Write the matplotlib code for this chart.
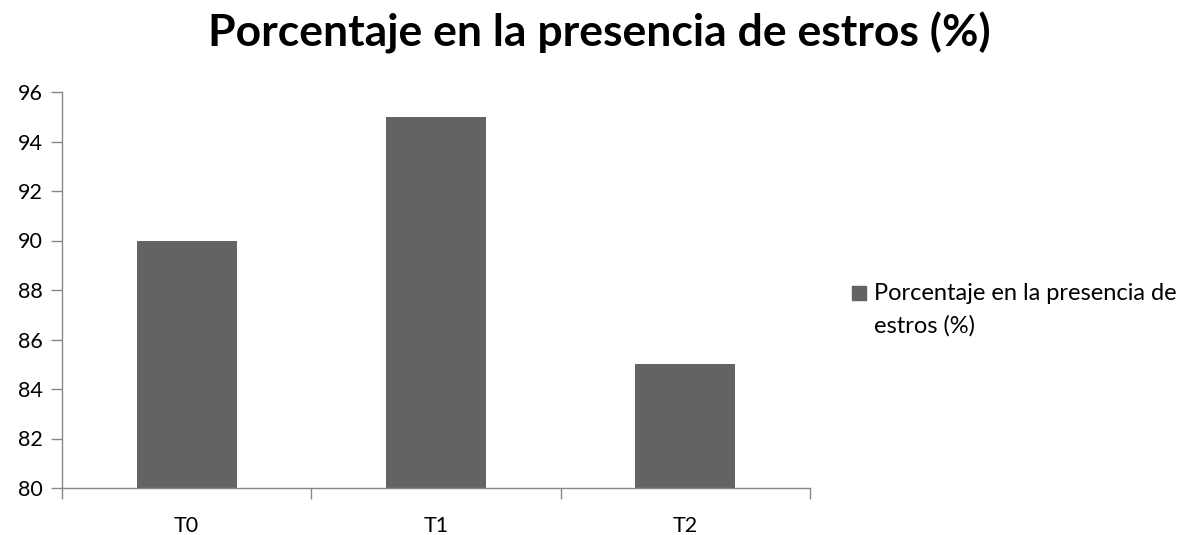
import matplotlib.pyplot as plt
from matplotlib.patches import Rectangle

# datos
categorias = ["T0", "T1", "T2"]
valores = [90, 95, 85]
serie = "Porcentaje en la presencia de estros (%)"
leyenda_lineas = ["Porcentaje en la presencia de", "estros (%)"]
yticks = [80, 82, 84, 86, 88, 90, 92, 94, 96]

GRIS_BARRA = "#636363"
GRIS_EJE = "#878787"
W, H = 1199, 535

plt.rcParams["font.family"] = ["Lato", "DejaVu Sans"]

fig = plt.figure(figsize=(W / 100, H / 100), dpi=100)
ax = fig.add_axes([62 / W, 1 - 488 / H, (810 - 62) / W, (488 - 92) / H])

x = range(len(categorias))
ax.bar(x, valores, width=0.4, color=GRIS_BARRA, zorder=2)

ax.set_xlim(-0.5, len(categorias) - 0.5)
ax.set_ylim(80, 96)
ax.set_yticks(yticks)
ax.tick_params(axis="y", direction="out", length=8, width=1, color=GRIS_EJE,
               labelsize=15.5, pad=6)

# ticks en los limites de categoria, etiquetas centradas
ax.set_xticks([i - 0.5 for i in range(len(categorias) + 1)])
ax.set_xticklabels([])
ax.set_xticks(list(x), minor=True)
ax.set_xticklabels(categorias, minor=True)
ax.tick_params(axis="x", which="major", direction="out", length=8, width=1, color=GRIS_EJE)
ax.tick_params(axis="x", which="minor", length=0, labelsize=15.5, pad=20)

for lado in ["top", "right"]:
    ax.spines[lado].set_visible(False)
for lado in ["left", "bottom"]:
    ax.spines[lado].set_color(GRIS_EJE)
    ax.spines[lado].set_linewidth(1)

fig.text(0.5, 1 - 46 / H, serie, ha="center", va="baseline", fontsize=32, fontweight="bold")

# leyenda
fig.patches.append(Rectangle((852 / W, 1 - 300 / H), 14 / W, 14 / H,
                             transform=fig.transFigure, color=GRIS_BARRA))
for i, linea in enumerate(leyenda_lineas):
    fig.text(874 / W, 1 - (300 + 33 * i) / H, linea, ha="left", va="baseline", fontsize=17)

plt.savefig("out.png", dpi=100)
